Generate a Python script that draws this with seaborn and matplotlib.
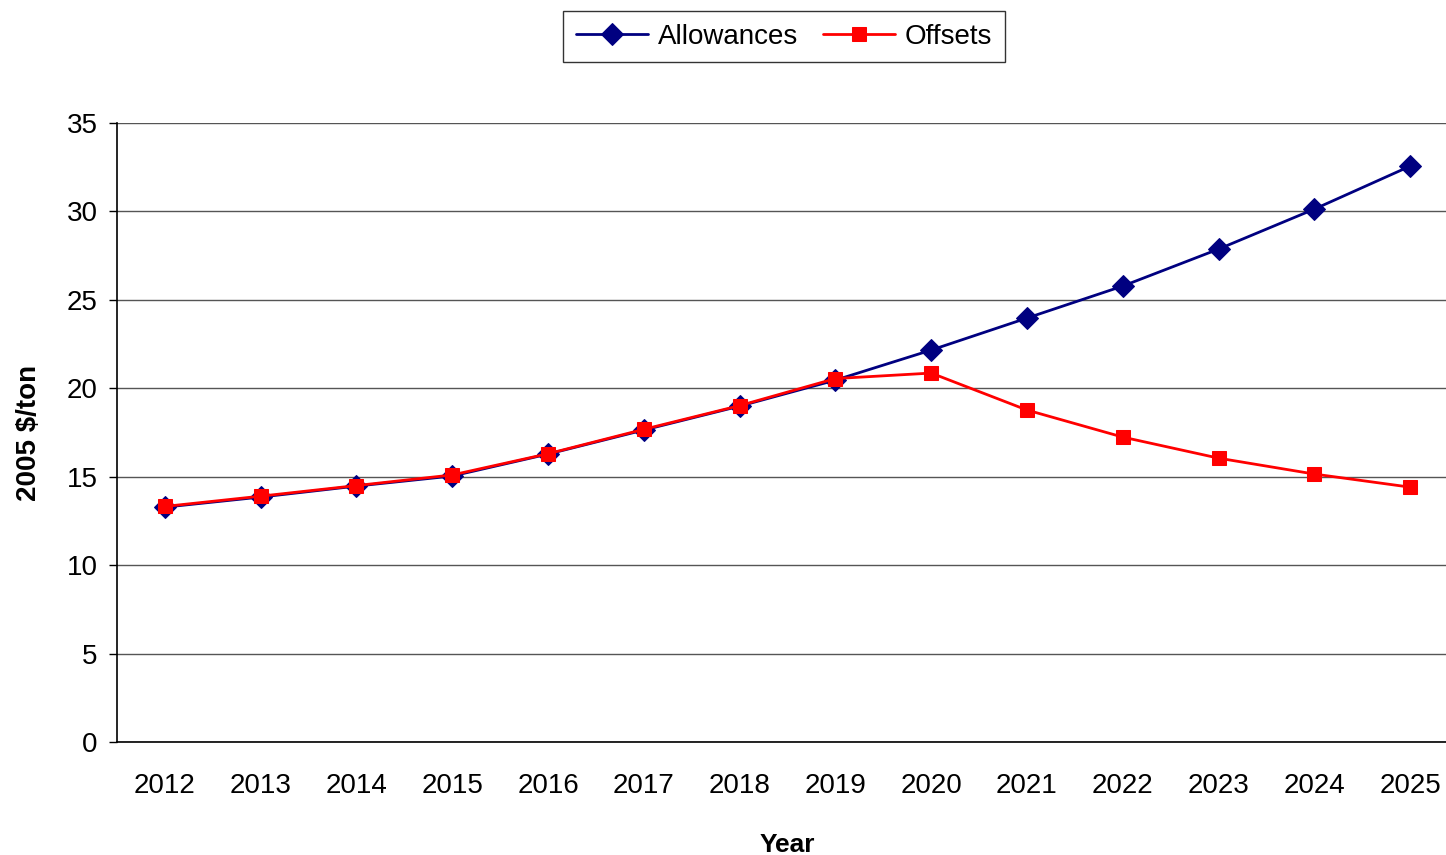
import matplotlib
matplotlib.use("Agg")
import matplotlib.pyplot as plt
import seaborn as sns
import pandas as pd
import numpy as np

years = [2012, 2013, 2014, 2015, 2016, 2017, 2018, 2019, 2020, 2021, 2022, 2023, 2024, 2025]
allowances = [13.28, 13.85, 14.47, 15.04, 16.28, 17.64, 18.99, 20.46, 22.16, 23.97, 25.78, 27.87, 30.13, 32.56]
offsets = [13.32, 13.90, 14.50, 15.10, 16.30, 17.68, 19.02, 20.55, 20.86, 18.77, 17.24, 16.05, 15.15, 14.41]
y_ticks = [0, 5, 10, 15, 20, 25, 30, 35]

sns.set_style("white")
plt.rcParams['font.family'] = ['Liberation Sans', 'DejaVu Sans']
plt.rcParams['text.color'] = 'black'
plt.rcParams['axes.labelcolor'] = 'black'
plt.rcParams['xtick.color'] = 'black'
plt.rcParams['ytick.color'] = 'black'

fig = plt.figure(figsize=(14.46, 8.55), dpi=100)
ax = fig.add_axes([117/1446, 1 - 742/855, (1458 - 117)/1446, (742 - 123)/855])

df_a = pd.DataFrame({"Year": years, "Value": allowances})
df_o = pd.DataFrame({"Year": years, "Value": offsets})

sns.lineplot(data=df_a, x="Year", y="Value", ax=ax, color="#000080", marker="D",
             markersize=11, markeredgecolor="#000080", linewidth=2, label="Allowances", zorder=3)
sns.lineplot(data=df_o, x="Year", y="Value", ax=ax, color="#FF0000", marker="s",
             markersize=10.5, markeredgecolor="#FF0000", linewidth=2, label="Offsets", zorder=4)

ax.set_xlim(years[0] - 0.5, years[-1] + 0.5)
ax.set_ylim(0, 35)
ax.set_yticks(y_ticks)
ax.set_yticklabels([str(t) for t in y_ticks], fontsize=20)
ax.set_xticks(years)
ax.set_xticklabels([str(y) for y in years], fontsize=20)
ax.set_xticks(np.arange(years[0] - 0.5, years[-1] + 1.0, 1.0), minor=True)
ax.tick_params(axis='x', which='major', length=0, pad=22)
ax.tick_params(axis='x', which='minor', length=6, width=1, color='black', direction='out')
ax.tick_params(axis='y', which='major', length=6, width=1, color='black', direction='out', pad=8, left=True)

ax.grid(axis='y', color='#555555', linewidth=1)
ax.grid(axis='x', visible=False)
ax.set_axisbelow(True)

for s in ['top', 'right']:
    ax.spines[s].set_visible(False)
for s in ['left', 'bottom']:
    ax.spines[s].set_color('black')
    ax.spines[s].set_linewidth(1.2)

ax.set_xlabel("Year", fontsize=19, fontweight='bold', labelpad=25)
ax.set_ylabel("2005 $/ton", fontsize=20, fontweight='bold', labelpad=18)

ax.legend(loc='center', bbox_to_anchor=(784/1446, 1 - 37/855), bbox_transform=fig.transFigure,
          ncol=2, fontsize=20, frameon=True, fancybox=False, edgecolor='black',
          handlelength=2.6, columnspacing=0.9, handletextpad=0.35, borderpad=0.45)
leg = ax.get_legend()
leg.get_frame().set_linewidth(1)

fig.savefig("out.png", dpi=100)
